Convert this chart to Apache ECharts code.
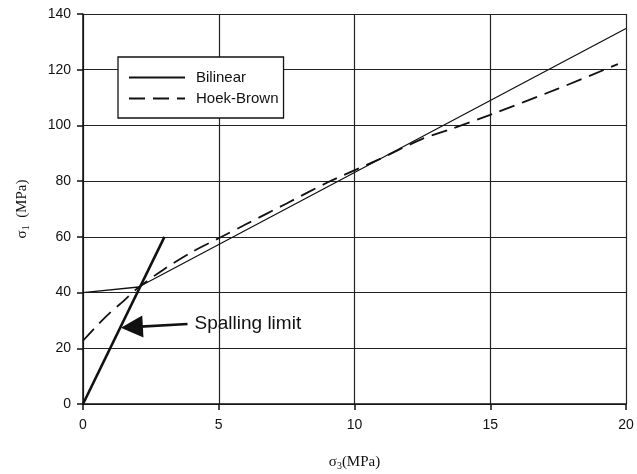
<!DOCTYPE html>
<html>
<head>
<meta charset="utf-8">
<script src="https://cdn.jsdelivr.net/npm/echarts@6/dist/echarts.min.js"></script>
<style>
  html, body { margin: 0; padding: 0; background: #fff; }
  #chart { width: 637px; height: 474px; }
</style>
</head>
<body>
<div id="chart"></div>
<script>
// values
const bilinearX = [0, 2.05, 20]
const bilinearY = [40, 42, 134.8]

const hoekX = [0, 0.5, 1, 1.5, 2, 3, 4, 5, 6, 7.5, 9, 10.9, 12.5, 13.5, 15, 17.5, 19.7]
const hoekY = [22.7, 28, 32.8, 37, 41.5, 48.5, 54.5, 59.5, 64.5, 72, 79.5, 87.8, 95.2, 98.5, 103.8, 113.2, 122]

const spallX = [0, 3]
const spallY = [0, 60]

const arrowFrom = [3.85, 28.7]
const arrowTo = [1.8, 27.6]

const xTicks = [0, 5, 10, 15, 20]
const yTicks = [0, 20, 40, 60, 80, 100, 120, 140]

const pairs = (xs, ys) => xs.map((x, i) => [x, ys[i]])

const chart = echarts.init(document.getElementById('chart'))

const axisCommon = {
  axisLine: { lineStyle: { color: '#111', width: 1.5 } },
  axisTick: { show: true, length: 6, lineStyle: { color: '#111', width: 1.5 } },
  splitLine: { show: true, lineStyle: { color: '#222', width: 1.2 } },
  axisLabel: { color: '#111', fontFamily: 'Liberation Sans', fontSize: 14 }
}

const option = {
  animation: false,
  backgroundColor: '#fff',
  grid: { left: 83, right: 11, top: 14, bottom: 70, outerBoundsMode: 'none' },
  legend: {
    data: ['Bilinear', 'Hoek-Brown'],
    orient: 'vertical',
    left: 118,
    top: 57,
    itemWidth: 56,
    itemHeight: 13,
    itemGap: 6,
    padding: [13, 5, 12, 10],
    backgroundColor: '#fff',
    borderColor: '#111',
    borderWidth: 1.3,
    borderRadius: 0,
    itemStyle: { opacity: 0 },
    textStyle: { color: '#111', fontFamily: 'Liberation Sans', fontSize: 15, padding: [0, 0, 0, 6] }
  },
  xAxis: {
    type: 'value',
    min: xTicks[0],
    max: xTicks[xTicks.length - 1],
    interval: 5,
    ...axisCommon,
    axisLabel: { ...axisCommon.axisLabel, margin: 14 },
    name: '{a|σ}{b|3}{a|(MPa)}',
    nameLocation: 'middle',
    nameGap: 50,
    nameTextStyle: {
      rich: {
        a: { fontFamily: 'Liberation Serif', fontSize: 15, color: '#111' },
        b: { fontFamily: 'Liberation Serif', fontSize: 10, color: '#111', padding: [7, 0, 0, 0] }
      }
    }
  },
  yAxis: {
    type: 'value',
    min: yTicks[0],
    max: yTicks[yTicks.length - 1],
    interval: 20,
    ...axisCommon,
    axisLabel: { ...axisCommon.axisLabel, margin: 12 },
    name: '{a|σ}{b|1}{a|  (MPa)}',
    nameLocation: 'middle',
    nameRotate: 90,
    nameGap: 52,
    nameTextStyle: {
      rich: {
        a: { fontFamily: 'Liberation Serif', fontSize: 15, color: '#111' },
        b: { fontFamily: 'Liberation Serif', fontSize: 10, color: '#111', padding: [7, 0, 0, 0] }
      }
    }
  },
  series: [
    {
      name: 'Bilinear',
      type: 'line',
      data: pairs(bilinearX, bilinearY),
      symbol: 'none',
      lineStyle: { color: '#111', width: 1.3 },
      itemStyle: { color: '#111' },
      z: 3
    },
    {
      name: 'Hoek-Brown',
      type: 'line',
      data: pairs(hoekX, hoekY),
      symbol: 'none',
      smooth: 0.3,
      lineStyle: { color: '#111', width: 1.8, type: [16, 8] },
      itemStyle: { color: '#111' },
      z: 3
    },
    {
      name: 'Spalling',
      type: 'line',
      data: pairs(spallX, spallY),
      symbol: 'none',
      lineStyle: { color: '#111', width: 2.6 },
      itemStyle: { color: '#111' },
      z: 4,
      markLine: {
        silent: true,
        symbol: ['none', 'triangle'],
        symbolSize: 22,
        itemStyle: { color: '#111' },
        lineStyle: { color: '#111', width: 2.6, type: 'solid' },
        label: {
          show: true,
          position: 'start',
          distance: 7,
          formatter: 'Spalling limit',
          color: '#111',
          fontFamily: 'Liberation Sans',
          fontSize: 19
        },
        data: [[{ coord: arrowFrom }, { coord: arrowTo }]]
      }
    }
  ]
}

chart.setOption(option)
</script>
</body>
</html>
